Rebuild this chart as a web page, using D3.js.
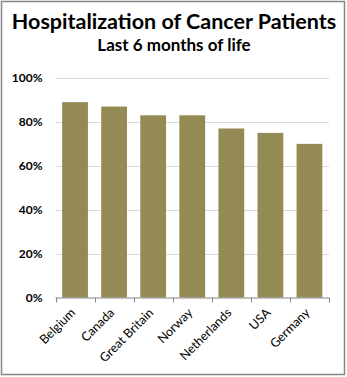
<!DOCTYPE html>
<html><head><meta charset="utf-8">
<script src="https://cdn.jsdelivr.net/npm/d3@7"></script>
<style>body{margin:0;background:#fff}svg{display:block}</style>
</head><body>
<svg id="c" width="347" height="377"></svg>
<script>
const categories = ["Belgium","Canada","Great Britain","Norway","Netherlands","USA","Germany"];
const values = [0.89,0.87,0.83,0.83,0.77,0.75,0.70];
const yTicks = [0,0.2,0.4,0.6,0.8,1.0];
const title = "Hospitalization of Cancer Patients";
const subtitle = "Last 6 months of life";

const svg = d3.select("#c");
const W = 347, H = 377;
const m = {left:55.5, right:18, top:78, bottom:79.5};
const font = "Lato, 'Open Sans', 'Liberation Sans', sans-serif";

svg.append("rect").attr("x",1.5).attr("y",1.5).attr("width",W-4).attr("height",H-4)
  .attr("fill","#fff").attr("stroke","#868686").attr("stroke-width",1.5);

const x = d3.scaleBand().domain(categories).range([m.left, W-m.right]).paddingInner(0.34).paddingOuter(0.17);
const y = d3.scaleLinear().domain([0,1]).range([H-m.bottom, m.top]);

// gridlines
svg.append("g").selectAll("line").data(yTicks.filter(d=>d>0)).join("line")
  .attr("x1",m.left).attr("x2",W-m.right)
  .attr("y1",d=>Math.round(y(d))+0.5).attr("y2",d=>Math.round(y(d))+0.5)
  .attr("stroke","#d9d9d9").attr("stroke-width",1);

// y axis labels
const yAxis = d3.axisLeft(y).tickValues(yTicks).tickFormat(d3.format(".0%")).tickSize(0).tickPadding(13);
const gy = svg.append("g").attr("transform",`translate(${m.left},0)`).call(yAxis);
gy.select(".domain").remove();
gy.selectAll("text").attr("font-family",font).attr("font-weight","bold").attr("font-size","12px").attr("fill","#000");

// bars
svg.append("g").selectAll("rect").data(values).join("rect")
  .attr("x",(d,i)=>x(categories[i])).attr("width",x.bandwidth())
  .attr("y",d=>y(d)).attr("height",d=>y(0)-y(d))
  .attr("fill","#948a54");

// x axis
const x0 = y(0);
const step = (W-m.right-m.left)/categories.length;
const gx = svg.append("g");
gx.append("line").attr("x1",m.left).attr("x2",W-m.right).attr("y1",x0+0.5).attr("y2",x0+0.5)
  .attr("stroke","#868686").attr("stroke-width",1);
gx.selectAll("line.t").data(d3.range(categories.length+1)).join("line").attr("class","t")
  .attr("x1",i=>Math.round(m.left+i*step)+0.5).attr("x2",i=>Math.round(m.left+i*step)+0.5)
  .attr("y1",x0).attr("y2",x0+5).attr("stroke","#868686");
gx.selectAll("text").data(categories).join("text")
  .attr("transform",d=>`translate(${x(d)+x.bandwidth()/2+1},${x0+16}) rotate(-45)`)
  .attr("text-anchor","end").attr("font-family",font).attr("font-size","12.5px").attr("fill","#000")
  .text(d=>d);

// titles
svg.append("text").attr("x",174).attr("y",29).attr("text-anchor","middle")
  .attr("font-family",font).attr("font-weight","bold").attr("font-size","21.5px").text(title);
svg.append("text").attr("x",174).attr("y",51).attr("text-anchor","middle")
  .attr("font-family",font).attr("font-weight","bold").attr("font-size","17px").text(subtitle);
</script>
</body></html>
